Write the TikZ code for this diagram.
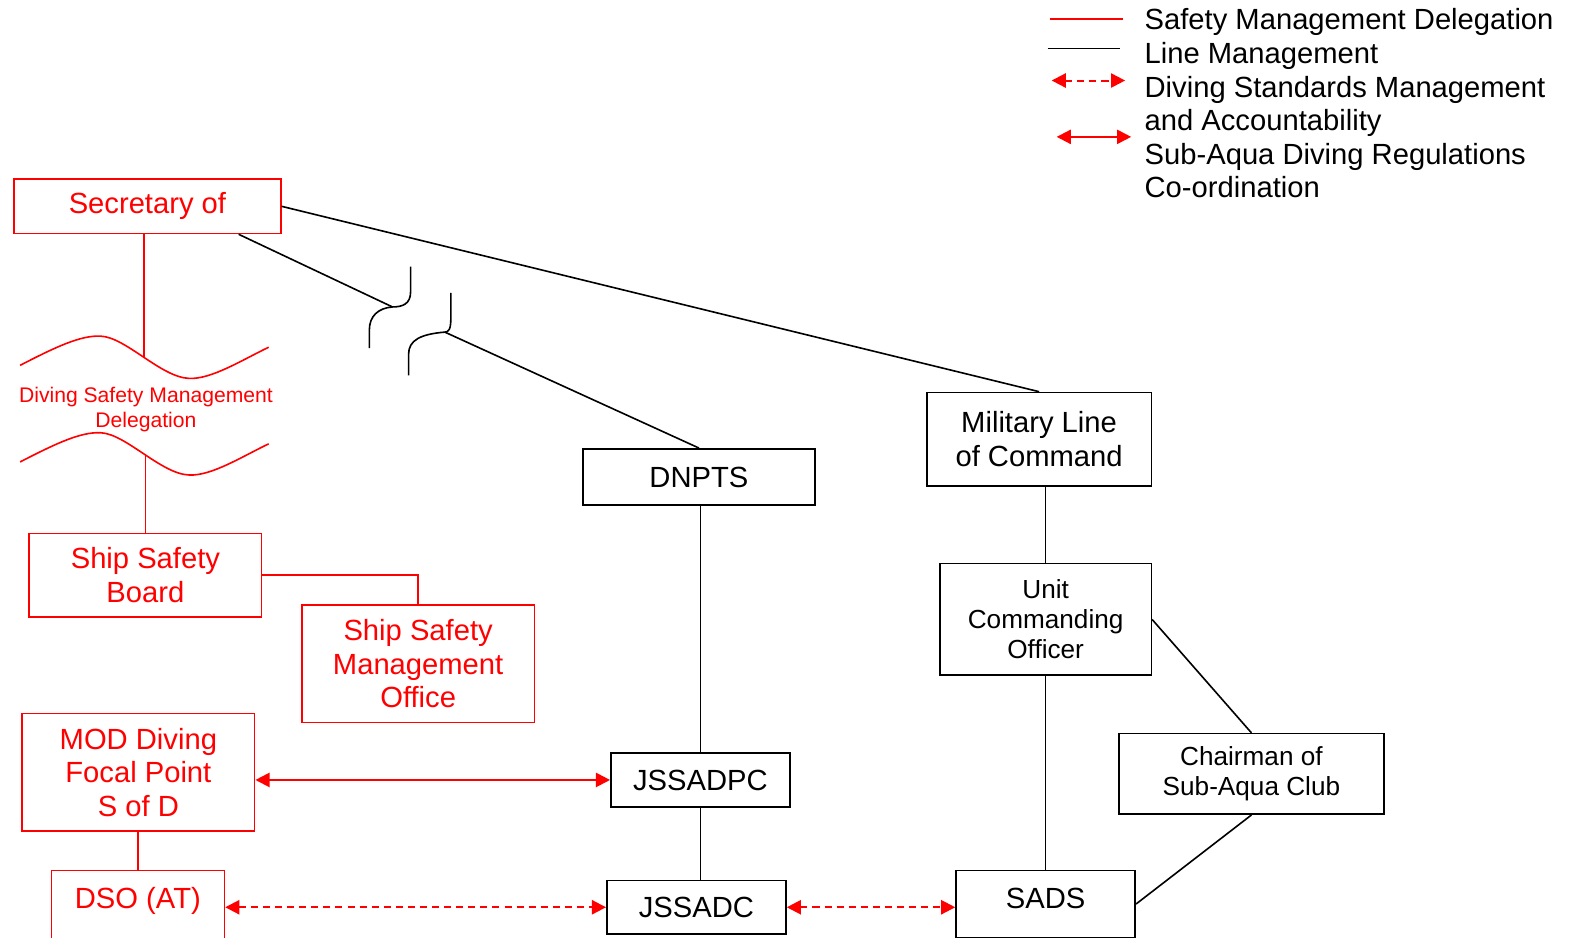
\documentclass[tikz,border=0pt]{standalone}
\usepackage{fontspec}
\setmainfont{Liberation Sans}
\usetikzlibrary{arrows.meta,calc}

\begin{document}
\begin{tikzpicture}[x=0.5pt, y=-0.5pt,
    redbox/.style={rectangle, draw=red, text=red, line width=0.8pt, inner sep=0pt, align=center, font=\fontsize{14.5}{16.7}\selectfont},
    blackbox/.style={rectangle, draw, line width=0.8pt, inner sep=0pt, align=center, font=\fontsize{14.5}{16.7}\selectfont},
    smallbox/.style={blackbox, font=\fontsize{13}{15}\selectfont},
    redline/.style={red, line width=0.8pt},
    blackline/.style={black, line width=0.8pt},
    coordarrow/.style={red, line width=1pt, {Triangle[length=7pt,width=7pt]}-{Triangle[length=7pt,width=7pt]}},
    stdarrow/.style={coordarrow, dash pattern=on 3.5pt off 2.5pt}
]
\useasboundingbox (0,0) rectangle (1568,932);

% Safety chain (red)
\node[redbox, minimum width=132.5pt, minimum height=27pt] (sec) at (146.5,205) {Secretary of};
\node[redbox, minimum width=115.5pt, minimum height=41.5pt] (ssb) at (144.5,571.5) {Ship Safety\\Board};
\node[redbox, minimum width=115.5pt, minimum height=58.5pt] (ssmo) at (415.5,659.5) {Ship Safety\\Management\\Office};
\node[redbox, minimum width=115.5pt, minimum height=58.5pt] (mod) at (137.5,767.5) {MOD Diving\\Focal Point\\S of D};
\node[redbox, anchor=north, minimum width=86pt, text height=19.2pt, text depth=30pt] (dso) at (137,864) {DSO (AT)};
\node[text=red, align=center, inner sep=0pt, font=\fontsize{10.5}{12}\selectfont] (dsmd) at (145,407) {Diving Safety Management\\Delegation};

% Line management (black)
\node[blackbox, minimum width=115.5pt, minimum height=28pt] (dnpts) at (694.5,474) {DNPTS};
\node[blackbox, minimum width=89pt, minimum height=27pt] (jssadpc) at (696,775) {JSSADPC};
\node[blackbox, minimum width=89pt, minimum height=26.5pt] (jssadc) at (692,901.5) {JSSADC};
\node[blackbox, minimum width=111.5pt, minimum height=46.5pt] (mil) at (1032.5,436.5) {Military Line\\of Command};
\node[smallbox, minimum width=105pt, minimum height=55.5pt] (uco) at (1039,615.5) {Unit\\Commanding\\Officer};
\node[smallbox, minimum width=131.5pt, minimum height=40pt] (chair) at (1243.5,769) {Chairman of\\Sub-Aqua Club};
\node[blackbox, anchor=north, minimum width=89pt, text height=19.2pt, text depth=14.3pt] (sads) at (1039,864) {SADS};

% Wavy delegation break
\coordinate (w1) at (143,355);
\coordinate (w2) at (144.5,451);
\draw[redline] (20,363) .. controls (55,345) and (80,333) .. (100,334) .. controls (125,335) and (160,375) .. (188,376) .. controls (210,377) and (240,358) .. (267,345);
\draw[redline] (20,459) .. controls (55,441) and (80,429) .. (100,430) .. controls (125,431) and (160,471) .. (188,472) .. controls (210,473) and (240,454) .. (267,441);
\draw[redline] (sec.south -| w1) -- (w1);
\draw[redline] (w2) -- (ssb.north);
\draw[redline] (ssb.east) -| (ssmo.north);
\draw[redline] ($(ssb.south)+(-2.5,0)$) -- ($(ssb.south)+(-2.5,0)$ |- mod.north);
\draw[redline] (mod.south -| dso.north) -- (dso.north);

% Broken line to DNPTS
\coordinate (brk1) at (390,305);
\coordinate (brk2) at (442,330);
\draw[blackline] ($(sec.south east)!0.16!(sec.south west)$) -- (brk1);
\draw[blackline] (408,265) -- (408,290) .. controls (408,302) and (400,305) .. (brk1) .. controls (376,306) and (367,314) .. (367,328) -- (367,346);
\draw[blackline] (448,291) -- (448,316) .. controls (448,327) and (446,330) .. (brk2) .. controls (418,332) and (406,338) .. (406,352) -- (406,373);
\draw[blackline] (brk2) -- (dnpts.north);

% Other line management
\draw[blackline] (sec.east) -- (mil.north);
\draw[blackline] (dnpts.south -| jssadpc.north) -- (jssadpc.north);
\draw[blackline] (jssadpc.south) -- (jssadpc.south |- jssadc.north);
\draw[blackline] (mil.south -| uco.north) -- (uco.north);
\draw[blackline] (uco.south) -- (sads.north);
\draw[blackline] (uco.east) -- (chair.north);
\draw[blackline] (chair.south) -- (sads.east);

% Red arrows
\draw[coordarrow] (mod.east |- jssadpc.west) -- (jssadpc.west);
\draw[stdarrow] (dso.east |- jssadc.west) -- (jssadc.west);
\draw[stdarrow] (jssadc.east) -- (jssadc.east -| sads.west);

% Legend
\coordinate (leg1a) at (1043,19);  \coordinate (leg1b) at (1116,19);
\coordinate (leg2a) at (1041,48);  \coordinate (leg2b) at (1113,48);
\coordinate (leg3a) at (1045,80);  \coordinate (leg3b) at (1118,80);
\coordinate (leg4a) at (1050,136); \coordinate (leg4b) at (1124,136);
\draw[redline] (leg1a) -- (leg1b);
\draw[blackline] (leg2a) -- (leg2b);
\draw[stdarrow] (leg3a) -- (leg3b);
\draw[coordarrow] (leg4a) -- (leg4b);
\node[anchor=north west, align=left, inner sep=0pt, font=\fontsize{14.5}{16.7}\selectfont] (legtext) at (1137,8.2) {Safety Management Delegation\\Line Management\\Diving Standards Management\\and Accountability\\Sub-Aqua Diving Regulations\\Co-ordination};
\end{tikzpicture}
\end{document}
